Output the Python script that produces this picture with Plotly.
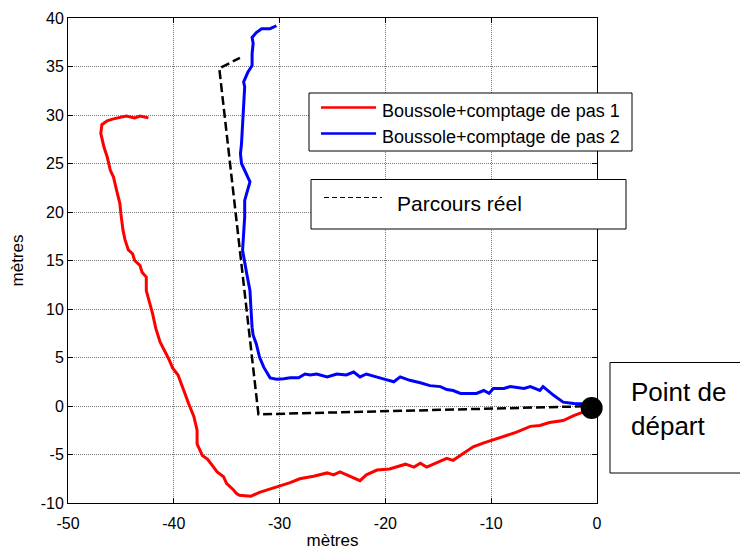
import plotly.graph_objects as go

# ---- data (metres) ----
red_x = [-0.5, -1.3, -2.2, -3.2, -4.5, -5.4, -6.3, -7.6, -8.5, -9.5,
         -10.7, -11.7, -12.6, -13.6, -14.2, -15.1, -16.1, -16.7, -17.3, -18.1,
         -19.6, -20.8, -21.8, -22.4, -23.3, -24.3, -24.9, -25.5, -26.8, -28.1,
         -29.0, -30.6, -31.9, -32.7, -33.8, -34.1, -34.4, -35.0, -35.3, -35.9,
         -36.4, -36.8, -37.3, -37.8, -37.8, -38.1, -38.6, -39.1, -39.6, -40.1,
         -40.5, -41.3, -41.7, -42.0, -42.3, -42.6, -42.6, -43.0, -43.2, -43.7,
         -43.9, -44.3, -44.6, -44.8, -45.0, -45.1, -45.4, -45.7, -46.0, -46.3,
         -46.6, -46.9, -46.8, -46.3, -45.7, -44.5, -43.7, -43.2, -42.4]
red_y = [-0.3, -0.6, -1.0, -1.5, -1.7, -2.0, -2.1, -2.7, -3.0, -3.4,
         -3.8, -4.2, -4.9, -5.6, -5.4, -5.8, -6.3, -5.9, -6.3, -6.0,
         -6.5, -6.6, -7.1, -7.7, -7.25, -6.8, -7.1, -6.9, -7.25, -7.5,
         -7.9, -8.45, -8.9, -9.3, -9.2, -9.0, -8.6, -8.0, -7.3, -6.8,
         -6.1, -5.5, -5.1, -3.9, -2.5, -1.1, 0.25, 1.8, 3.2, 3.9,
         4.9, 6.6, 8.0, 9.5, 10.6, 11.9, 13.3, 13.8, 14.5, 15.0,
         15.7, 16.1, 17.1, 18.1, 19.8, 20.9, 22.2, 23.6, 24.3, 25.7,
         26.7, 28.1, 29.0, 29.4, 29.6, 29.9, 29.7, 29.9, 29.7]

blue_x = [-0.5, -1.3, -2.2, -3.2, -4.1, -5.1, -5.4, -6.3, -6.9, -8.2,
          -8.8, -9.8, -10.2, -10.7, -11.4, -12.3, -12.9, -13.6, -14.2, -14.8,
          -15.8, -16.7, -17.7, -18.6, -19.2, -20.2, -21.8, -22.4, -23.0, -23.7,
          -24.6, -25.5, -26.5, -27.1, -27.6, -28.2, -29.0, -29.6, -30.3, -30.9,
          -31.2, -31.5, -31.9, -32.2, -32.5, -32.6, -32.7, -32.8, -33.1, -33.3,
          -33.5, -33.4, -33.3, -33.3, -32.8, -33.6, -33.7, -33.6, -33.5, -33.4,
          -33.3, -33.4, -33.0, -32.6, -32.6, -32.5, -32.6, -32.2, -31.7, -30.9,
          -30.3]
blue_y = [0.2, 0.25, 0.25, 0.4, 1.1, 2.0, 1.6, 2.0, 1.8, 2.0,
          1.8, 1.8, 1.3, 1.6, 1.3, 1.3, 1.3, 1.6, 1.7, 2.0,
          2.1, 2.4, 2.65, 3.0, 2.5, 2.8, 3.3, 3.0, 3.5, 3.2,
          3.3, 3.0, 3.3, 3.2, 3.3, 2.9, 2.9, 2.8, 2.75, 2.9,
          3.5, 4.0, 5.05, 6.4, 7.3, 8.1, 9.9, 11.9, 13.6, 14.8,
          16.05, 17.8, 19.5, 21.2, 23.1, 25.0, 26.0, 27.05, 28.8, 30.8,
          32.9, 33.4, 34.4, 35.1, 36.3, 37.4, 38.0, 38.5, 38.9, 38.9,
          39.2]

real_x = [0.0, -32.0, -35.7, -33.75]
real_y = [0.0, -0.86, 34.8, 35.9]

start_x = [-0.5]
start_y = [-0.2]

x_ticks = [-50, -40, -30, -20, -10, 0]
y_ticks = [-10, -5, 0, 5, 10, 15, 20, 25, 30, 35, 40]

names = ["Boussole+comptage de pas 1", "Boussole+comptage de pas 2", "Parcours réel"]
axis_label = "mètres"
start_label = "Point de<br>départ"

FONT = "Liberation Sans, Arial, sans-serif"

fig = go.Figure()
fig.add_trace(go.Scatter(x=red_x, y=red_y, mode="lines", name=names[0],
                         line=dict(color="#ff0000", width=3), showlegend=False))
fig.add_trace(go.Scatter(x=blue_x, y=blue_y, mode="lines", name=names[1],
                         line=dict(color="#0000ff", width=3), showlegend=False))
fig.add_trace(go.Scatter(x=real_x, y=real_y, mode="lines", name=names[2],
                         line=dict(color="black", width=2.5, dash="9px,4px"),
                         showlegend=False))
fig.add_trace(go.Scatter(x=start_x, y=start_y, mode="markers", name="départ",
                         marker=dict(color="black", size=22), cliponaxis=False,
                         showlegend=False))

axis_common = dict(
    showline=True, linecolor="black", linewidth=1, mirror="allticks",
    ticks="inside", ticklen=5, tickcolor="black", tickwidth=1,
    showgrid=True, gridcolor="#7a7a7a", griddash="1px,1px", gridwidth=1,
    zeroline=False, tickfont=dict(family=FONT, size=16, color="black"),
    automargin=False,
)

fig.update_xaxes(range=[-50, 0], tickvals=x_ticks, ticktext=[str(v) for v in x_ticks],
                 ticklabelstandoff=6,
                 title=dict(text=axis_label, font=dict(family=FONT, size=17, color="black"),
                            standoff=2),
                 **axis_common)
fig.update_yaxes(range=[-10, 40], tickvals=y_ticks, ticktext=[str(v) for v in y_ticks],
                 title=dict(text=axis_label, font=dict(family=FONT, size=17, color="black"),
                            standoff=12),
                 **axis_common)

# the page body adds an 8px offset; the figure is sized to fit the window
OFF = 8
W, H = 740, 543
L, R, T, B = 60, 151, 10, 48
pw, ph = W - L - R, H - T - B


def px(xp):
    """page x pixel -> paper fraction"""
    return (xp - OFF - L) / pw


def py(yp):
    """page y pixel -> paper fraction"""
    return (H - B - (yp - OFF)) / ph


shapes = []
annotations = []
# legend box 1
shapes.append(dict(type="rect", xref="paper", yref="paper",
                   x0=px(309), x1=px(632), y0=py(151), y1=py(93),
                   line=dict(color="black", width=1), fillcolor="white", layer="above"))
shapes.append(dict(type="line", xref="paper", yref="paper",
                   x0=px(321), x1=px(376), y0=py(107.5), y1=py(107.5),
                   line=dict(color="#ff0000", width=2.5), layer="above"))
shapes.append(dict(type="line", xref="paper", yref="paper",
                   x0=px(321), x1=px(376), y0=py(133.5), y1=py(133.5),
                   line=dict(color="#0000ff", width=2.5), layer="above"))
annotations.append(dict(xref="paper", yref="paper", x=px(380), y=py(111),
                        xanchor="left", yanchor="middle", showarrow=False,
                        text=names[0], font=dict(family=FONT, size=18, color="black")))
annotations.append(dict(xref="paper", yref="paper", x=px(380), y=py(137),
                        xanchor="left", yanchor="middle", showarrow=False,
                        text=names[1], font=dict(family=FONT, size=18, color="black")))
# legend box 2
shapes.append(dict(type="rect", xref="paper", yref="paper",
                   x0=px(311), x1=px(626), y0=py(229), y1=py(179.5),
                   line=dict(color="black", width=1), fillcolor="white", layer="above"))
shapes.append(dict(type="line", xref="paper", yref="paper",
                   x0=px(324), x1=px(382), y0=py(197.5), y1=py(197.5),
                   line=dict(color="black", width=1.2, dash="5px,3px"), layer="above"))
annotations.append(dict(xref="paper", yref="paper", x=px(395), y=py(204),
                        xanchor="left", yanchor="middle", showarrow=False,
                        text=names[2], font=dict(family=FONT, size=21, color="black")))
# start label box
shapes.append(dict(type="rect", xref="paper", yref="paper",
                   x0=px(610), x1=px(746), y0=py(473), y1=py(362.5),
                   line=dict(color="black", width=1), fillcolor="white", layer="above"))
annotations.append(dict(xref="paper", yref="paper", x=px(629), y=py(409),
                        xanchor="left", yanchor="middle", align="left", showarrow=False,
                        text=start_label, font=dict(family=FONT, size=26, color="black")))

fig.update_layout(
    width=W, height=H,
    margin=dict(l=L, r=R, t=T, b=B, autoexpand=False),
    paper_bgcolor="white", plot_bgcolor="white",
    font=dict(family=FONT, color="black"),
    shapes=shapes, annotations=annotations,
    showlegend=False,
)

fig.write_html("out.html")
